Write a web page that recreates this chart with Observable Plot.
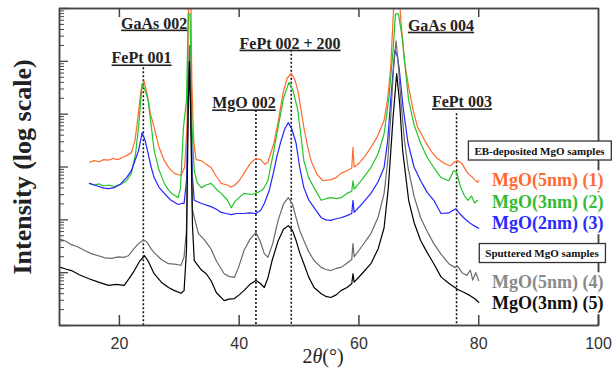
<!DOCTYPE html>
<html><head><meta charset="utf-8">
<script src="https://cdn.jsdelivr.net/npm/d3@7"></script>
<script src="https://cdn.jsdelivr.net/npm/@observablehq/plot@0.6"></script>
<style>body{margin:0;background:#fff}#chart{width:612px;height:385px}</style>
</head><body><div id="chart"></div>
<script>
// ---- data: [2theta (deg), log10 intensity] ----
const seriesNames = ["MgO(5nm) (1)", "MgO(3nm) (2)", "MgO(2nm) (3)", "MgO(5nm) (4)", "MgO(3nm) (5)"];
const seriesColors = ["#ff6a2e", "#22c42a", "#2424ff", "#6a6a6a", "#000000"];
const labelColors = ["#ff6a33", "#33bb33", "#2a2aff", "#8a8a8a", "#111111"];

const s1 = [[15.0,3.09],[15.8,3.12],[16.6,3.10],[17.4,3.14],[18.2,3.13],[19.0,3.16],[19.8,3.14],[20.6,3.19],[21.3,3.22],[22.0,3.27],[22.6,3.50],[23.1,3.94],[23.6,4.45],[24.1,4.63],[24.6,4.40],[25.2,4.00],[25.8,3.75],[26.6,3.38],[27.5,3.12],[28.3,2.98],[29.2,2.88],[30.3,2.84],[30.9,3.00],[31.3,3.80],[31.6,6.50],[31.9,6.50],[32.1,4.60],[32.4,3.50],[32.8,3.14],[33.7,3.12],[34.5,3.05],[35.3,2.99],[36.2,2.82],[37.0,2.69],[38.0,2.66],[38.6,2.62],[39.2,2.65],[40.0,2.74],[40.8,2.88],[41.8,3.06],[42.8,3.16],[43.6,3.14],[44.3,3.05],[44.8,3.09],[45.8,3.45],[46.5,3.85],[47.3,4.39],[48.0,4.68],[48.7,4.77],[49.3,4.65],[49.8,4.45],[50.3,4.10],[50.8,3.75],[51.4,3.40],[52.0,3.12],[53.0,2.86],[54.0,2.74],[55.3,2.76],[56.2,2.80],[57.0,2.88],[58.0,2.93],[58.8,2.98],[59.0,3.37],[59.2,3.00],[60.0,3.07],[61.0,3.20],[62.0,3.37],[63.0,3.56],[64.2,3.88],[64.8,4.30],[65.3,4.88],[65.7,5.80],[66.0,6.50],[66.6,6.50],[67.0,5.77],[67.6,5.00],[68.2,4.58],[69.0,4.10],[69.8,3.75],[71.0,3.50],[72.0,3.31],[73.0,3.17],[74.2,3.07],[75.3,3.02],[76.0,3.10],[76.5,3.12],[77.2,3.06],[78.2,2.88],[79.0,2.80],[79.8,2.71],[80.0,2.74]];
const s2 = [[15.0,2.69],[15.8,2.66],[16.6,2.68],[17.4,2.64],[18.2,2.66],[19.2,2.63],[20.2,2.67],[21.2,2.74],[22.0,2.88],[22.7,3.25],[23.2,3.75],[23.8,4.58],[24.3,4.45],[24.8,4.26],[25.3,3.80],[25.8,3.31],[26.6,2.95],[27.5,2.69],[28.1,2.58],[28.7,2.50],[29.3,2.46],[29.8,2.42],[30.2,2.60],[30.7,3.75],[31.2,4.26],[31.5,5.90],[31.8,5.90],[32.1,3.80],[32.5,2.93],[33.0,2.70],[33.7,2.61],[34.5,2.66],[35.3,2.69],[36.2,2.58],[37.0,2.50],[38.0,2.38],[38.7,2.23],[39.3,2.35],[40.0,2.42],[40.8,2.50],[42.0,2.48],[43.2,2.52],[44.0,2.58],[44.8,2.74],[45.6,3.20],[46.5,3.75],[47.4,4.30],[48.3,4.60],[49.0,4.45],[49.8,4.07],[50.3,3.60],[50.8,3.12],[51.6,2.80],[52.5,2.61],[53.7,2.37],[54.5,2.40],[55.3,2.42],[56.2,2.40],[57.0,2.42],[58.0,2.50],[58.8,2.54],[59.0,2.74],[59.2,2.58],[60.5,2.76],[62.0,2.99],[63.2,3.25],[64.2,3.63],[65.0,4.30],[65.7,5.21],[66.1,5.90],[66.6,5.90],[67.3,5.39],[67.8,4.80],[68.3,4.26],[69.2,3.80],[70.3,3.45],[71.4,3.18],[72.5,2.99],[73.7,2.80],[75.0,2.74],[75.8,2.93],[76.3,2.90],[77.0,2.61],[77.6,2.46],[78.2,2.37],[78.8,2.45],[79.3,2.32],[79.8,2.37]];
const s3 = [[15.0,2.69],[15.8,2.66],[16.6,2.63],[17.4,2.60],[18.2,2.59],[19.2,2.61],[20.2,2.68],[21.2,2.80],[22.0,2.93],[22.7,3.15],[23.2,3.31],[23.8,3.65],[24.3,3.50],[24.8,3.26],[25.3,3.00],[25.8,2.80],[26.6,2.62],[27.5,2.50],[28.5,2.38],[29.8,2.29],[30.4,2.31],[30.8,2.31],[31.2,2.74],[31.5,4.20],[31.7,4.90],[31.9,4.20],[32.2,2.80],[32.5,2.37],[33.7,2.31],[35.3,2.25],[36.2,2.20],[37.0,2.14],[37.8,2.12],[38.7,2.10],[39.6,2.12],[40.8,2.12],[41.8,2.13],[42.8,2.12],[43.6,2.18],[44.2,2.31],[45.0,2.55],[45.7,2.88],[46.3,3.20],[47.0,3.50],[47.6,3.72],[48.2,3.84],[48.8,3.72],[49.5,3.45],[50.1,3.00],[50.8,2.61],[51.6,2.38],[52.5,2.23],[53.7,2.04],[54.5,2.00],[55.3,1.99],[56.2,2.02],[57.0,2.04],[58.0,2.08],[58.8,2.12],[59.0,2.37],[59.2,2.14],[60.5,2.30],[62.0,2.50],[63.2,2.72],[64.2,2.99],[64.8,3.50],[65.3,4.26],[66.0,5.21],[66.4,5.10],[66.7,4.88],[67.4,4.10],[68.2,3.45],[69.2,3.00],[70.3,2.74],[71.4,2.52],[72.5,2.37],[73.7,2.12],[75.0,2.13],[75.7,2.18],[76.2,2.21],[76.8,2.12],[77.5,2.04],[78.4,1.95],[79.2,1.89],[80.0,1.84]];
const s4 = [[10.2,1.63],[11.0,1.60],[12.0,1.53],[13.0,1.49],[14.2,1.42],[15.3,1.36],[16.5,1.32],[17.6,1.28],[18.7,1.27],[19.8,1.30],[20.7,1.29],[21.5,1.32],[22.4,1.45],[23.2,1.55],[24.0,1.62],[24.6,1.58],[25.3,1.45],[25.8,1.38],[27.0,1.25],[28.2,1.17],[29.2,1.16],[30.3,1.14],[30.8,1.30],[31.2,1.80],[31.5,4.60],[31.7,5.30],[31.9,4.40],[32.2,2.20],[32.6,2.00],[33.2,1.74],[34.2,1.62],[35.3,1.45],[36.2,1.22],[37.5,0.98],[38.3,0.93],[39.2,0.91],[39.9,1.10],[40.8,1.42],[41.8,1.63],[42.8,1.76],[43.5,1.60],[44.2,1.36],[44.8,1.29],[45.6,1.55],[46.5,1.99],[47.4,2.30],[48.2,2.42],[48.9,2.30],[49.5,2.04],[50.1,1.80],[50.8,1.61],[51.6,1.40],[52.5,1.23],[53.7,1.10],[54.5,1.06],[55.3,1.04],[56.2,1.08],[57.0,1.10],[58.0,1.18],[58.8,1.25],[59.0,1.55],[59.2,1.30],[60.5,1.50],[62.0,1.74],[63.2,2.05],[64.2,2.50],[64.8,3.10],[65.3,3.94],[65.8,4.90],[66.2,5.39],[66.6,4.90],[67.0,4.26],[67.6,3.50],[68.2,2.99],[69.2,2.45],[70.3,2.04],[71.4,1.78],[72.5,1.55],[73.7,1.35],[75.0,1.17],[76.0,1.10],[76.5,1.12],[77.2,1.00],[78.0,0.95],[78.6,1.05],[79.0,0.86],[79.5,1.00],[80.0,0.85]];
const s5 = [[10.2,1.10],[11.0,1.07],[12.0,1.04],[13.3,0.96],[14.8,0.89],[16.5,0.82],[18.2,0.76],[19.5,0.78],[20.8,0.76],[21.7,0.90],[22.5,1.04],[23.4,1.22],[24.2,1.32],[24.8,1.22],[25.8,0.98],[27.0,0.82],[28.2,0.72],[29.2,0.66],[30.3,0.61],[30.8,0.66],[31.2,1.42],[31.5,4.20],[31.7,5.00],[31.9,4.00],[32.2,1.90],[32.5,1.23],[33.7,1.05],[34.5,0.98],[35.3,0.85],[36.2,0.62],[37.5,0.47],[38.3,0.50],[39.2,0.51],[40.0,0.58],[40.8,0.66],[41.8,0.78],[42.8,0.85],[43.5,0.80],[44.2,0.72],[44.8,0.90],[45.5,1.23],[46.5,1.60],[47.4,1.82],[48.2,1.89],[48.9,1.80],[49.5,1.61],[50.1,1.38],[50.8,1.17],[51.6,0.92],[52.5,0.72],[53.7,0.60],[54.5,0.55],[55.3,0.53],[56.2,0.58],[57.0,0.66],[58.0,0.72],[58.8,0.79],[59.0,0.98],[59.2,0.82],[60.5,0.98],[62.0,1.17],[63.2,1.45],[64.2,1.85],[64.9,2.60],[65.7,3.94],[66.3,4.77],[66.8,4.20],[67.3,3.31],[68.3,2.37],[69.2,1.95],[70.3,1.61],[71.4,1.38],[72.5,1.17],[73.7,0.92],[75.0,0.80],[76.5,0.68],[77.5,0.63],[78.5,0.57],[79.3,0.51],[80.0,0.44]];
const seriesData = [s1, s2, s3, s4, s5];

// peak reference lines
const peakLineTheta = [24.0, 42.8, 48.7, 76.3];
const peakLineTopLogI = [4.88, 4.07, 5.21, 4.01];

// peak labels
const peakLabels = ["FePt 001", "GaAs 002", "MgO 002", "FePt 002 + 200", "GaAs 004", "FePt 003"];
const peakLabelTheta = [23.7, 25.8, 40.8, 48.5, 73.7, 77.2];
const peakLabelLogI = [4.96, 5.62, 4.11, 5.24, 5.58, 4.13];

const xTicks = [20, 40, 60, 80, 100];
const xTopTicks = [20, 40, 60, 80];
const yMajor = [1, 10, 100, 1e3, 1e4, 1e5, 1e6];
const yMinor = [];
for (let e = 0; e < 6; e++) for (let m = 2; m <= 9; m++) yMinor.push(m * 10 ** e);
const xDomain = [10, 100];
const yDomain = [1, 1e6];

const groupLabels = ["EB-deposited MgO samples", "Sputtered MgO samples"];
const xLabel = "2θ(°)";
const yLabel = "Intensity (log scale)";

// ---- build tables ----
const rows = seriesData.flatMap((s, i) => s.map(([t, l]) => ({theta: t, intensity: 10 ** l, series: seriesNames[i] + i, color: seriesColors[i]})));
const peakLines = peakLineTheta.map((t, i) => ({theta: t, topI: 10 ** peakLineTopLogI[i]}));
const peakText = peakLabels.map((n, i) => ({name: n, theta: peakLabelTheta[i], y: 10 ** peakLabelLogI[i]}));

// layout of legend rows (offsets from top-right frame corner)
const legendDy = [172, 194, 215, 274, 295];
const serif = "'Liberation Serif', 'Times New Roman', serif";
const sans = "'Liberation Sans', Arial, sans-serif";

const legendMarks = seriesNames.map((n, i) => Plot.text([n], {
  text: d => d, frameAnchor: "top-right", dx: 5, dy: legendDy[i], textAnchor: "end", lineAnchor: "middle",
  fill: labelColors[i], fontSize: 18, fontWeight: "bold", fontFamily: serif, className: "legend-label"
}));
const groupMarks = [
  Plot.text([groupLabels[0]], {text: d => d, frameAnchor: "top-right", dx: -59, dy: 142.5, textAnchor: "middle", lineAnchor: "middle", fontSize: 11, fontWeight: "bold", fontFamily: serif, fill: "#111", className: "group-box"}),
  Plot.text([groupLabels[1]], {text: d => d, frameAnchor: "top-right", dx: -56.5, dy: 245, textAnchor: "middle", lineAnchor: "middle", fontSize: 11, fontWeight: "bold", fontFamily: serif, fill: "#111", className: "group-box"})
];
const noText = () => "";
const spine = {stroke: "#444", strokeWidth: 1.5};

const chart = Plot.plot({
  width: 612, height: 385,
  marginLeft: 59, marginRight: 14, marginTop: 8, marginBottom: 60,
  x: {domain: xDomain},
  y: {type: "log", domain: yDomain},
  style: {background: "white", fontFamily: serif, overflow: "visible"},
  marks: [
    Plot.ruleX(peakLines, {x: "theta", y1: "topI", y2: 1, stroke: "#111", strokeWidth: 1.6, strokeDasharray: "2,2"}),
    Plot.line(rows, {x: "theta", y: "intensity", z: "series", stroke: "color", strokeWidth: 1.2, clip: true}),
    Plot.frame(spine),
    Plot.ruleX(xDomain, {x: d => d, ...spine}),
    Plot.ruleY(yDomain, {y: d => d, ...spine}),
    Plot.axisX({anchor: "bottom", ticks: xTicks, tickSize: -10, tickPadding: 22, label: null, stroke: "#444", strokeWidth: 1.5, fill: "#333", fontSize: 16, fontFamily: sans}),
    Plot.axisX({anchor: "top", ticks: xTopTicks, tickSize: -8, tickFormat: noText, label: null, stroke: "#444", strokeWidth: 1.5}),
    Plot.axisY({anchor: "left", ticks: yMajor, tickSize: -9, tickFormat: noText, label: null, stroke: "#444", strokeWidth: 1.3}),
    Plot.axisY({anchor: "left", ticks: yMinor, tickSize: -5, tickFormat: noText, label: null, stroke: "#444", strokeWidth: 1}),
    Plot.text(peakText, {x: "theta", y: "y", text: "name", lineAnchor: "bottom", fontSize: 16, fontWeight: "bold", fontFamily: serif, fill: "#222", className: "peak-labels"}),
    Plot.text([yLabel], {text: d => d, frameAnchor: "left", dx: -37, rotate: -90, textAnchor: "middle", lineAnchor: "middle", fontSize: 26, fontWeight: "bold", fontFamily: serif, fill: "#222"}),
    Plot.text([xLabel], {text: d => d, frameAnchor: "bottom", dx: -6, dy: 37, textAnchor: "middle", fontSize: 20, fontFamily: serif, fill: "#222", className: "x-label"}),
    ...groupMarks,
    ...legendMarks
  ]
});
document.getElementById("chart").append(chart);

{
  const NS = "http://www.w3.org/2000/svg";
  const svg = d3.select(chart);
  svg.selectAll("g.peak-labels text").style("text-decoration", "underline");
  svg.selectAll("g.x-label text").each(function () {
    const t = d3.select(this);
    t.text(null);
    t.append("tspan").text("2");
    t.append("tspan").attr("font-style", "italic").text("θ");
    t.append("tspan").text("(°)");
  });
  const backRect = (sel, padX, padY, stroke) => {
    sel.each(function () {
      const b = this.getBBox();
      const r = document.createElementNS(NS, "rect");
      r.setAttribute("x", b.x - padX);
      r.setAttribute("y", b.y - padY);
      r.setAttribute("width", b.width + 2 * padX);
      r.setAttribute("height", b.height + 2 * padY);
      r.setAttribute("fill", "white");
      if (stroke) { r.setAttribute("stroke", stroke); r.setAttribute("stroke-width", 1.3); }
      const tr = this.getAttribute("transform");
      if (tr) r.setAttribute("transform", tr);
      this.parentNode.insertBefore(r, this);
    });
  };
  backRect(svg.selectAll("g.legend-label text"), 1, 0, null);
  backRect(svg.selectAll("g.group-box text"), 6, 3.5, "#333");
}
</script></body></html>
